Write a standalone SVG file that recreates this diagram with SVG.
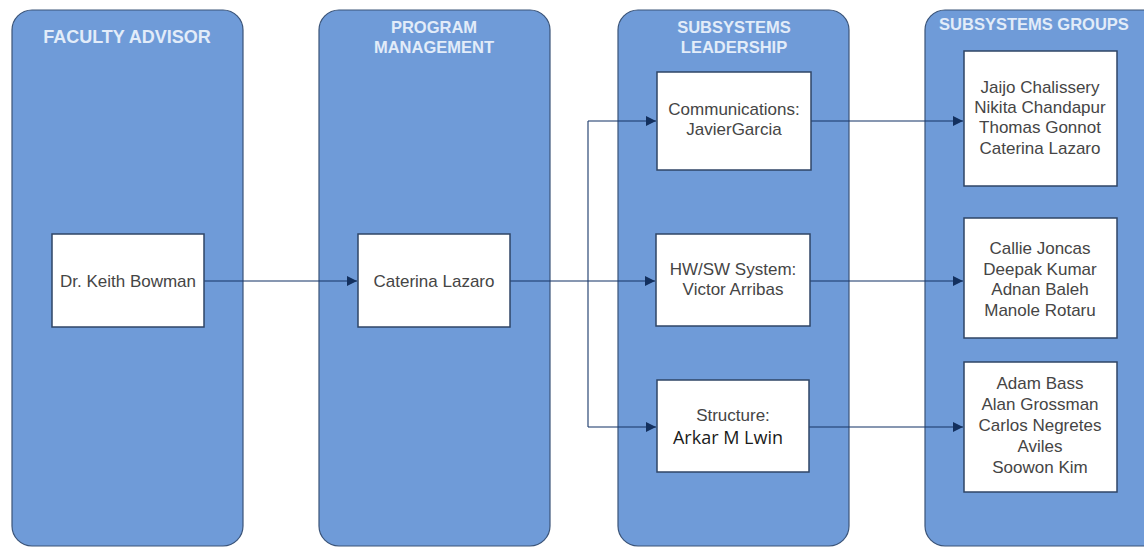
<svg xmlns="http://www.w3.org/2000/svg" width="1144" height="547" viewBox="0 0 1144 547">
<defs>
<style>
.lane{fill:#6f9bd8;stroke:#3b5478;stroke-width:1.2}
.hdr{font-family:"Liberation Sans",Arial,sans-serif;font-weight:bold;font-size:16.5px;fill:#e2ecf9;text-anchor:middle}
.box{fill:#ffffff;stroke:#2f4566;stroke-width:1.5}
.txt{font-family:"Liberation Sans",Arial,sans-serif;font-size:17px;fill:#454545;text-anchor:middle}
.alt{font-family:"Open Sans","Noto Sans",sans-serif;font-size:18px;fill:#1a1a1a;text-anchor:middle}
.con{fill:none;stroke:#1b3a6b;stroke-opacity:0.7;stroke-width:1.6}
</style>
<marker id="ah" viewBox="0 0 10 10" refX="10" refY="5" markerWidth="11" markerHeight="10" markerUnits="userSpaceOnUse" orient="auto">
<path d="M0,0 L10,5 L0,10 z" fill="#13305e"/>
</marker>
</defs>
<rect width="1144" height="547" fill="#ffffff"/>

<g id="lane-faculty">
<rect class="lane" x="12" y="10" width="231" height="536" rx="20"/>
<text class="hdr" x="127" y="43" style="font-size:18px">FACULTY ADVISOR</text>
</g>
<g id="lane-program">
<rect class="lane" x="319" y="10" width="231" height="536" rx="20"/>
<text class="hdr" x="434" y="33">PROGRAM</text>
<text class="hdr" x="434" y="53">MANAGEMENT</text>
</g>
<g id="lane-leadership">
<rect class="lane" x="618" y="10" width="231" height="536" rx="20"/>
<text class="hdr" x="734" y="33">SUBSYSTEMS</text>
<text class="hdr" x="734" y="53">LEADERSHIP</text>
</g>
<g id="lane-groups">
<rect class="lane" x="925" y="10" width="240" height="536" rx="20"/>
<text class="hdr" x="1034" y="30">SUBSYSTEMS GROUPS</text>
</g>

<g id="connectors">
<line class="con" x1="204" y1="281" x2="357" y2="281" marker-end="url(#ah)"/>
<polyline class="con" points="510,281 588,281"/>
<line class="con" x1="588" y1="121" x2="588" y2="427"/>
<line class="con" x1="588" y1="121" x2="656" y2="121" marker-end="url(#ah)"/>
<line class="con" x1="588" y1="281" x2="655" y2="281" marker-end="url(#ah)"/>
<line class="con" x1="588" y1="427" x2="656" y2="427" marker-end="url(#ah)"/>
<line class="con" x1="811" y1="121" x2="963" y2="121" marker-end="url(#ah)"/>
<line class="con" x1="810" y1="281" x2="963" y2="281" marker-end="url(#ah)"/>
<line class="con" x1="809" y1="427" x2="963" y2="427" marker-end="url(#ah)"/>
</g>

<g id="node-bowman">
<rect class="box" x="52" y="234" width="152" height="93"/>
<text class="txt" x="128" y="287">Dr. Keith Bowman</text>
</g>
<g id="node-lazaro">
<rect class="box" x="358" y="234" width="152" height="93"/>
<text class="txt" x="434" y="287">Caterina Lazaro</text>
</g>
<g id="node-comm">
<rect class="box" x="657" y="72" width="154" height="98"/>
<text class="txt" x="734" y="115">Communications:</text>
<text class="txt" x="734" y="135">JavierGarcia</text>
</g>
<g id="node-hwsw">
<rect class="box" x="656" y="234" width="154" height="92"/>
<text class="txt" x="733" y="275">HW/SW System:</text>
<text class="txt" x="733" y="295">Victor Arribas</text>
</g>
<g id="node-structure">
<rect class="box" x="657" y="380" width="152" height="92"/>
<text class="txt" x="733" y="421">Structure:</text>
<text class="alt" x="728" y="444">Arkar M Lwin</text>
</g>
<g id="node-group1">
<rect class="box" x="964" y="51" width="153" height="135"/>
<text class="txt" x="1040" y="93">Jaijo Chalissery</text>
<text class="txt" x="1040" y="113">Nikita Chandapur</text>
<text class="txt" x="1040" y="133">Thomas Gonnot</text>
<text class="txt" x="1040" y="154">Caterina Lazaro</text>
</g>
<g id="node-group2">
<rect class="box" x="964" y="218" width="153" height="120"/>
<text class="txt" x="1040" y="254">Callie Joncas</text>
<text class="txt" x="1040" y="275">Deepak Kumar</text>
<text class="txt" x="1040" y="295">Adnan Baleh</text>
<text class="txt" x="1040" y="316">Manole Rotaru</text>
</g>
<g id="node-group3">
<rect class="box" x="964" y="362" width="153" height="130"/>
<text class="txt" x="1040" y="389">Adam Bass</text>
<text class="txt" x="1040" y="410">Alan Grossman</text>
<text class="txt" x="1040" y="431">Carlos Negretes</text>
<text class="txt" x="1040" y="452">Aviles</text>
<text class="txt" x="1040" y="473">Soowon Kim</text>
</g>
</svg>
